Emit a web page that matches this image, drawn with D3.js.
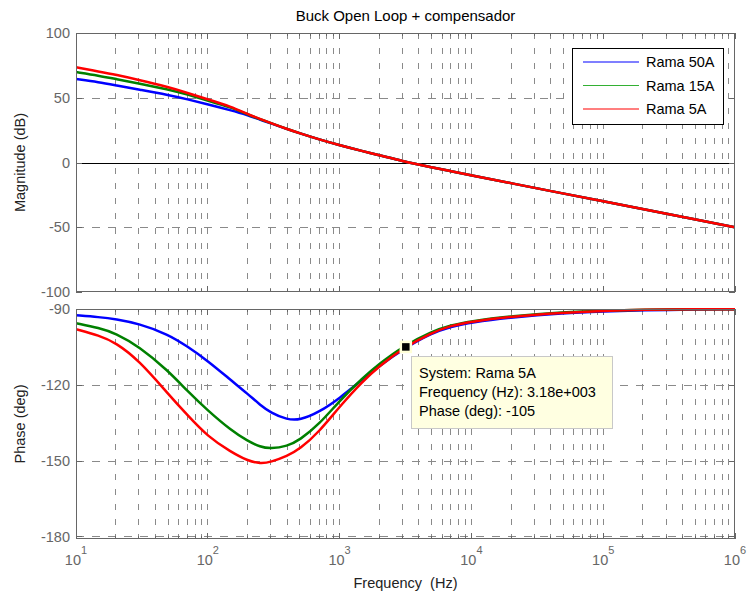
<!DOCTYPE html>
<html>
<head>
<meta charset="utf-8">
<script src="https://cdn.jsdelivr.net/npm/d3@7"></script>
<style>
  body { margin: 0; background: #fff; }
  svg { display: block; font-family: "Liberation Sans", Arial, Helvetica, sans-serif; }
</style>
</head>
<body>
<svg id="chart" width="747" height="599"></svg>
<script>
// ---------- data ----------
const freqs = [10, 15, 20, 30, 50, 70, 100, 150, 200, 250, 300, 400, 500, 700, 1000, 1500, 2000, 3000, 5000, 7000, 1e4, 2e4, 5e4, 1e5, 2e5, 5e5, 1e6];

const magRama50 = [64.5, 62.0, 59.6, 56.3, 52.2, 48.8, 45.0, 40.3, 36.6, 33.0, 30.3, 25.8, 22.5, 17.8, 13.3, 8.7, 5.7, 1.0, -3.7, -6.7, -9.9, -16.0, -24.0, -30.0, -36.0, -44.0, -50.0];
const magRama15 = [69.8, 67.0, 64.5, 61.0, 56.5, 52.5, 47.8, 42.6, 37.2, 33.4, 30.5, 25.8, 22.5, 17.8, 13.3, 8.7, 5.7, 1.0, -3.7, -6.7, -9.9, -16.0, -24.0, -30.0, -36.0, -44.0, -50.0];
const magRama5  = [73.5, 70.2, 67.8, 63.8, 58.3, 53.8, 48.8, 43.2, 37.5, 33.6, 30.5, 25.8, 22.5, 17.8, 13.3, 8.7, 5.7, 1.0, -3.7, -6.7, -9.9, -16.0, -24.0, -30.0, -36.0, -44.0, -50.0];

const phRama50 = [-92.5, -93.2, -94.0, -95.8, -100.0, -104.8, -110.5, -118.2, -123.5, -128.0, -131.0, -133.8, -134.0, -130.8, -125.3, -117.8, -112.6, -106.0, -99.5, -97.0, -95.3, -93.3, -91.6, -91.0, -90.5, -90.2, -90.1];
const phRama15 = [-95.6, -97.5, -99.6, -104.8, -114.4, -122.5, -130.2, -138.0, -142.2, -144.6, -145.3, -144.3, -141.8, -135.6, -126.3, -117.2, -111.7, -104.9, -98.9, -96.4, -94.8, -92.8, -91.2, -90.6, -90.3, -90.1, -90.05];
const phRama5  = [-98.0, -100.5, -103.3, -110.3, -123.6, -132.0, -140.5, -146.6, -150.0, -151.2, -150.6, -148.2, -145.4, -138.6, -128.6, -118.5, -112.7, -105.6, -99.3, -96.6, -95.0, -93.0, -91.4, -90.7, -90.3, -90.1, -90.05];

const seriesNames = ["Rama 50A", "Rama 15A", "Rama 5A"];
const seriesColors = ["#0000ff", "#008000", "#ff0000"];
const legendColors = ["#0000ff", "#33b033", "#ff0000"];
const magSeries = [magRama50, magRama15, magRama5];
const phSeries = [phRama50, phRama15, phRama5];

const magTicks = [100, 50, 0, -50, -100];
const phTicks = [-90, -120, -150, -180];
const decadeExps = [1, 2, 3, 4, 5, 6];

const titleText = "Buck Open Loop + compensador";
const tipLines = ["System: Rama 5A", "Frequency (Hz): 3.18e+003", "Phase (deg): -105"];
const tipPoint = { f: 3180, ph: -105 };

// ---------- layout ----------
const svg = d3.select("#chart");
const L = 76, R = 735;
const magTop = 33, magBot = 292;
const phTop = 309, phBot = 539;
const fs = 14.5;

const x = d3.scaleLog().domain([10, 1e6]).range([L, R]);
const yMag = d3.scaleLinear().domain([-100, 100]).range([magBot, magTop]);
const yPh = d3.scaleLinear().domain([-181, -90]).range([phBot, phTop]);

const gridFreqs = [];
for (let d = 1; d <= 5; d++) for (let m = 1; m <= 9; m++) gridFreqs.push(m * Math.pow(10, d));
gridFreqs.push(1e6);

function drawPanel(top, bot, yScale, yTicks, dashedY, solidY) {
  const g = svg.append("g");
  g.selectAll("line.vg").data(gridFreqs.filter(f => f > 10 && f < 1e6)).enter().append("line")
    .attr("x1", d => x(d)).attr("x2", d => x(d))
    .attr("y1", top).attr("y2", bot)
    .attr("stroke", "#8a8a8a").attr("stroke-width", 1)
    .attr("stroke-dasharray", "6,9")
    .attr("shape-rendering", "crispEdges");
  g.selectAll("line.hg").data(dashedY).enter().append("line")
    .attr("x1", L).attr("x2", R)
    .attr("y1", d => Math.round(yScale(d)) + 0.5).attr("y2", d => Math.round(yScale(d)) + 0.5)
    .attr("stroke", "#8a8a8a").attr("stroke-width", 1)
    .attr("stroke-dasharray", "8,8");
  solidY.forEach(v => {
    g.append("line").attr("x1", L).attr("x2", R)
      .attr("y1", Math.round(yScale(v)) + 0.5).attr("y2", Math.round(yScale(v)) + 0.5)
      .attr("stroke", "#000").attr("stroke-width", 1);
  });
  const tickCol = "#666";
  gridFreqs.forEach(f => {
    const major = [10, 100, 1000, 1e4, 1e5, 1e6].includes(f);
    const len = major ? 6 : 3;
    g.append("line").attr("x1", x(f)).attr("x2", x(f)).attr("y1", top).attr("y2", top + len)
      .attr("stroke", tickCol).attr("shape-rendering", "crispEdges");
    g.append("line").attr("x1", x(f)).attr("x2", x(f)).attr("y1", bot).attr("y2", bot - len)
      .attr("stroke", tickCol).attr("shape-rendering", "crispEdges");
  });
  yTicks.forEach(v => {
    const yy = Math.round(yScale(v)) + 0.5;
    g.append("line").attr("x1", L).attr("x2", L + 6).attr("y1", yy).attr("y2", yy).attr("stroke", tickCol);
    g.append("line").attr("x1", R).attr("x2", R - 6).attr("y1", yy).attr("y2", yy).attr("stroke", tickCol);
  });
  g.selectAll("text.yl").data(yTicks).enter().append("text")
    .attr("x", L - 6).attr("y", d => yScale(d))
    .attr("dy", "0.36em")
    .attr("text-anchor", "end")
    .attr("font-size", fs).attr("fill", "#666")
    .text(d => String(d));
  return g;
}

drawPanel(magTop, magBot, yMag, magTicks, [50, -50], [0]);
drawPanel(phTop, phBot, yPh, phTicks, [-90, -120, -150, -180], []);

const defs = svg.append("defs");
defs.append("clipPath").attr("id", "clipMag").append("rect")
  .attr("x", L).attr("y", magTop).attr("width", R - L).attr("height", magBot - magTop);
defs.append("clipPath").attr("id", "clipPh").append("rect")
  .attr("x", L).attr("y", phTop - 1).attr("width", R - L).attr("height", phBot - phTop + 1);

const curve = d3.curveBasis;
const lineMag = d3.line().x((d, i) => x(freqs[i])).y(d => yMag(d)).curve(curve);
const linePh = d3.line().x((d, i) => x(freqs[i])).y(d => yPh(d)).curve(curve);

const gm = svg.append("g").attr("clip-path", "url(#clipMag)");
magSeries.forEach((s, i) => {
  gm.append("path").attr("d", lineMag(s)).attr("fill", "none")
    .attr("stroke", seriesColors[i]).attr("stroke-width", 2.5).attr("stroke-linejoin", "round");
});
const gp = svg.append("g").attr("clip-path", "url(#clipPh)");
phSeries.forEach((s, i) => {
  gp.append("path").attr("d", linePh(s)).attr("fill", "none")
    .attr("stroke", seriesColors[i]).attr("stroke-width", 2.5).attr("stroke-linejoin", "round");
});

[[magTop, magBot], [phTop, phBot]].forEach(([t, b]) => {
  svg.append("rect").attr("x", L + 0.5).attr("y", t + 0.5).attr("width", R - L - 1).attr("height", b - t - 1)
    .attr("fill", "none").attr("stroke", "#666").attr("stroke-width", 1);
});

decadeExps.forEach(e => {
  const t = svg.append("text")
    .attr("x", x(Math.pow(10, e))).attr("y", 565)
    .attr("text-anchor", "middle")
    .attr("font-size", fs).attr("fill", "#666");
  t.append("tspan").text("10");
  t.append("tspan").attr("dy", -11).attr("font-size", 11).text(String(e));
});

svg.append("text").attr("x", (L + R) / 2).attr("y", 21).attr("text-anchor", "middle")
  .attr("font-size", 15).attr("fill", "#000").text(titleText);
svg.append("text").attr("x", (L + R) / 2).attr("y", 588).attr("text-anchor", "middle")
  .attr("font-size", fs).attr("fill", "#222").attr("xml:space", "preserve").text("Frequency  (Hz)");
svg.append("text").attr("transform", `translate(25,${(magTop + magBot) / 2}) rotate(-90)`)
  .attr("text-anchor", "middle").attr("font-size", fs).attr("fill", "#222").text("Magnitude (dB)");
svg.append("text").attr("transform", `translate(25,${(phTop + phBot) / 2}) rotate(-90)`)
  .attr("text-anchor", "middle").attr("font-size", fs).attr("fill", "#222").text("Phase (deg)");

const lg = svg.append("g");
lg.append("rect").attr("x", 572.5).attr("y", 48.5).attr("width", 151).attr("height", 76)
  .attr("fill", "#fff").attr("stroke", "#000").attr("stroke-width", 1);
seriesNames.forEach((n, i) => {
  const yy = 62 + i * 23.5;
  lg.append("line").attr("x1", 583).attr("x2", 639).attr("y1", yy).attr("y2", yy)
    .attr("stroke", legendColors[i]).attr("stroke-width", 1.2);
  lg.append("text").attr("x", 646).attr("y", yy).attr("dy", "0.36em")
    .attr("font-size", fs).attr("fill", "#000").text(n);
});

const tg = svg.append("g");
tg.append("rect").attr("x", 411.5).attr("y", 356.5).attr("width", 201).attr("height", 72)
  .attr("fill", "#ffffe1").attr("stroke", "#c8c8c8").attr("stroke-width", 1);
tipLines.forEach((s, i) => {
  tg.append("text").attr("x", 419).attr("y", 378 + i * 19)
    .attr("font-size", fs).attr("fill", "#000").text(s);
});
const mx = x(tipPoint.f), my = yPh(tipPoint.ph);
tg.append("rect").attr("x", mx - 5).attr("y", my - 5).attr("width", 10).attr("height", 10)
  .attr("fill", "#000").attr("stroke", "#ffffd8").attr("stroke-width", 2.5);
</script>
</body>
</html>
